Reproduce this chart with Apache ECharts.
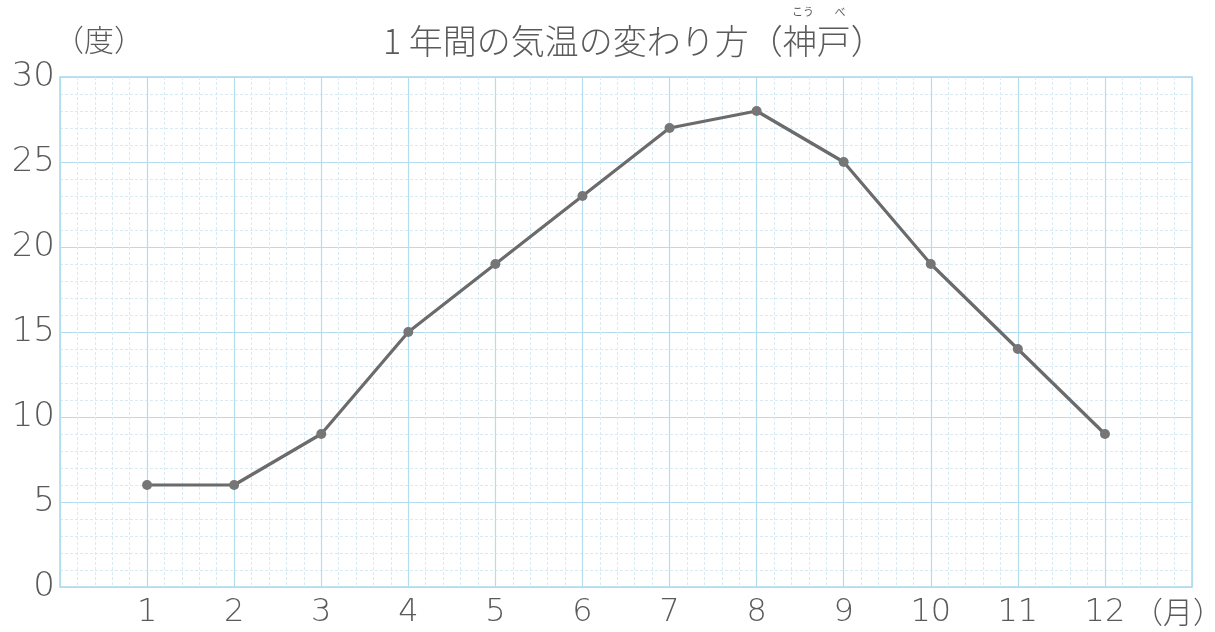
<!DOCTYPE html>
<html>
<head>
<meta charset="utf-8">
<script src="https://cdn.jsdelivr.net/npm/echarts@6/dist/echarts.min.js"></script>
<style>
html,body{margin:0;padding:0;background:#fff;}
#c{width:1215px;height:632px;}
</style>
</head>
<body>
<div id="c"></div>
<script>
const months = [1,2,3,4,5,6,7,8,9,10,11,12];
const temps = [6,6,9,15,19,23,27,28,25,19,14,9];
const yTicks = [0,5,10,15,20,25,30];
const titleText = '1 年間の気温の変わり方（神戸）';
const yUnit = '（度）';
const xUnit = '（月）';

const FONT = '"Noto Sans CJK JP", "Noto Sans", sans-serif';
const NUMFONT = '"DejaVu Sans", sans-serif';
const TXT = '#5a5a5a';
const chart = echarts.init(document.getElementById('c'));
chart.setOption({
  backgroundColor:'#fff',
  animation:false,
  grid:{left:60,right:23,top:77,bottom:45,show:true,borderColor:'#a9d8ec',borderWidth:1.5},
  xAxis:{
    type:'value',min:0,max:13,interval:1,
    axisLine:{show:false},axisTick:{show:false},
    axisLabel:{fontSize:32,color:TXT,fontFamily:NUMFONT,fontWeight:200,margin:10,
      formatter:v=> months.includes(v)?String(v):''},
    splitLine:{show:true,lineStyle:{color:'#b3dcee',width:1.2}},
    minorTick:{show:false,splitNumber:5},
    minorSplitLine:{show:true,lineStyle:{color:'#d9ebf2',width:1,type:[3,2]}}
  },
  yAxis:{
    type:'value',min:0,max:30,interval:5,
    axisLine:{show:false},axisTick:{show:false},
    axisLabel:{fontSize:34,color:TXT,fontFamily:NUMFONT,fontWeight:200,margin:5,
      formatter:v=> yTicks.includes(v)?String(v):''},
    splitLine:{show:true,lineStyle:{color:'#b3dcee',width:1.2}},
    minorTick:{show:false,splitNumber:5},
    minorSplitLine:{show:true,lineStyle:{color:'#d9ebf2',width:1,type:[3,2]}}
  },
  series:[{
    type:'line',
    data:months.map((m,i)=>[m,temps[i]]),
    lineStyle:{color:'#6b6b6b',width:3.2},
    itemStyle:{color:'#767676'},
    symbol:'circle',symbolSize:10
  }],
  graphic:[
    {type:'text',x:383,y:41,style:{text:titleText,fontSize:34,fontWeight:300,fill:TXT,fontFamily:FONT,verticalAlign:'middle'}},
    {type:'text',x:803,y:12,style:{text:'こう',fontSize:11,fill:TXT,fontFamily:FONT,align:'center',verticalAlign:'middle'}},
    {type:'text',x:840,y:12,style:{text:'べ',fontSize:11,fill:TXT,fontFamily:FONT,align:'center',verticalAlign:'middle'}},
    {type:'text',x:54,y:40,style:{text:yUnit,fontSize:30,fontWeight:300,fill:TXT,fontFamily:FONT,verticalAlign:'middle'}},
    {type:'text',x:1133,y:612,style:{text:xUnit,fontSize:30,fontWeight:300,fill:TXT,fontFamily:FONT,verticalAlign:'middle'}}
  ]
});
</script>
</body>
</html>
